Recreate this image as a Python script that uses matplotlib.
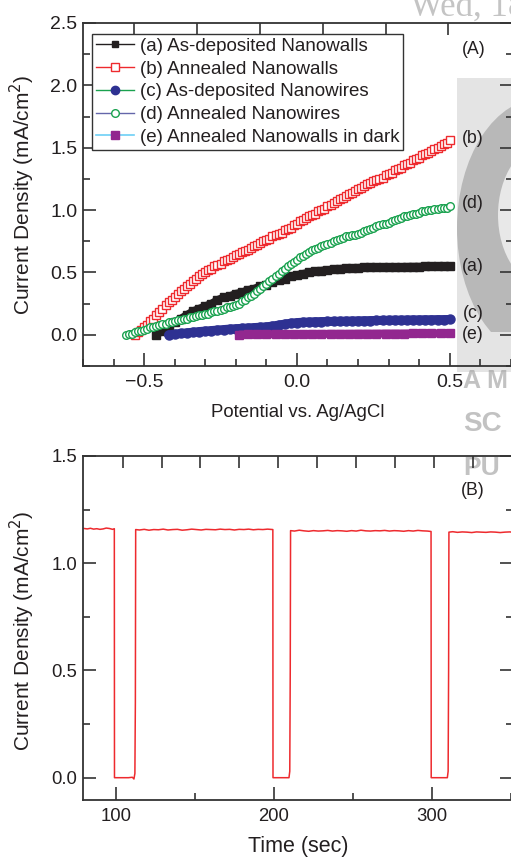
import numpy as np
import matplotlib.pyplot as plt
from matplotlib.lines import Line2D
from matplotlib.patches import Rectangle, Ellipse
from matplotlib.ticker import MultipleLocator

plt.rcParams['font.family'] = ['Liberation Sans', 'DejaVu Sans']

# ---- (A) photocurrent vs potential ----
# (a) as-deposited nanowalls, -0.46 .. 0.50 V every 0.02 V
j_a = [0.00, 0.03, 0.07, 0.10, 0.13, 0.16, 0.19, 0.21, 0.23, 0.25,
       0.28, 0.30, 0.31, 0.33, 0.34, 0.36, 0.37, 0.39, 0.40, 0.42,
       0.44, 0.45, 0.47, 0.48, 0.49, 0.50, 0.51, 0.515, 0.52, 0.525,
       0.53, 0.533, 0.536, 0.538, 0.54, 0.541, 0.542, 0.543, 0.544, 0.545,
       0.545, 0.546, 0.547, 0.547, 0.548, 0.548, 0.549, 0.55, 0.55]
v_a = np.linspace(-0.46, 0.50, len(j_a))

# (b) annealed nanowalls, -0.53 .. 0.50 V every 0.01 V
j_b = [0.00, 0.02, 0.04, 0.06, 0.08, 0.11, 0.13, 0.16, 0.18, 0.21,
       0.24, 0.26, 0.28, 0.30, 0.33, 0.35, 0.37, 0.39, 0.41, 0.43,
       0.45, 0.47, 0.49, 0.50, 0.52, 0.53, 0.55, 0.56, 0.57, 0.59,
       0.60, 0.61, 0.62, 0.64, 0.65, 0.66, 0.67, 0.68, 0.70, 0.71,
       0.72, 0.74, 0.75, 0.76, 0.77, 0.79, 0.80, 0.81, 0.82, 0.84,
       0.85, 0.86, 0.88, 0.89, 0.91, 0.92, 0.94, 0.95, 0.96, 0.97,
       0.99, 1.00, 1.01, 1.03, 1.04, 1.06, 1.07, 1.09, 1.10, 1.11,
       1.13, 1.14, 1.15, 1.17, 1.18, 1.19, 1.21, 1.22, 1.23, 1.24,
       1.25, 1.26, 1.28, 1.29, 1.30, 1.32, 1.33, 1.34, 1.36, 1.37,
       1.38, 1.40, 1.41, 1.42, 1.44, 1.45, 1.46, 1.47, 1.49, 1.50,
       1.51, 1.53, 1.54, 1.56]
v_b = np.linspace(-0.53, 0.50, len(j_b))

# (c) as-deposited nanowires, -0.42 .. 0.50 V every 0.02 V
j_c = [0.000, 0.005, 0.011, 0.016, 0.021, 0.026, 0.030, 0.034, 0.038, 0.042,
       0.046, 0.049, 0.052, 0.055, 0.058, 0.061, 0.064, 0.070, 0.078, 0.086,
       0.093, 0.098, 0.101, 0.103, 0.105, 0.106, 0.107, 0.108, 0.109, 0.110,
       0.111, 0.112, 0.113, 0.114, 0.115, 0.116, 0.117, 0.118, 0.118, 0.119,
       0.120, 0.120, 0.121, 0.121, 0.122, 0.122, 0.123]
v_c = np.linspace(-0.42, 0.50, len(j_c))

# (d) annealed nanowires, -0.56 .. 0.50 V every 0.01 V
j_d = [0.00, 0.01, 0.01, 0.02, 0.03, 0.03, 0.04, 0.05, 0.06, 0.06,
       0.07, 0.08, 0.09, 0.09, 0.10, 0.10, 0.11, 0.12, 0.12, 0.13,
       0.13, 0.14, 0.14, 0.15, 0.155, 0.16, 0.17, 0.17, 0.18, 0.19,
       0.19, 0.20, 0.21, 0.22, 0.22, 0.23, 0.24, 0.25, 0.27, 0.28,
       0.30, 0.31, 0.33, 0.35, 0.37, 0.39, 0.41, 0.43, 0.45, 0.47,
       0.49, 0.51, 0.53, 0.55, 0.57, 0.58, 0.60, 0.62, 0.63, 0.65,
       0.66, 0.68, 0.69, 0.70, 0.71, 0.72, 0.73, 0.74, 0.75, 0.76,
       0.77, 0.78, 0.79, 0.79, 0.80, 0.80, 0.81, 0.82, 0.83, 0.84,
       0.85, 0.86, 0.87, 0.88, 0.89, 0.89, 0.90, 0.91, 0.92, 0.93,
       0.94, 0.95, 0.95, 0.96, 0.97, 0.97, 0.98, 0.99, 0.99, 1.00,
       1.00, 1.01, 1.01, 1.02, 1.02, 1.02, 1.03]
v_d = np.linspace(-0.56, 0.50, len(j_d))

# (e) annealed nanowalls in dark, -0.19 .. 0.50 V every 0.03 V
j_e = [0.002, 0.003, 0.004, 0.004, 0.005, 0.005, 0.006, 0.006, 0.007, 0.007,
       0.008, 0.008, 0.008, 0.009, 0.009, 0.009, 0.010, 0.010, 0.010, 0.011,
       0.011, 0.011, 0.012, 0.012]
v_e = np.linspace(-0.19, 0.50, len(j_e))

labels_a = ['(a) As-deposited Nanowalls', '(b) Annealed Nanowalls',
            '(c) As-deposited Nanowires', '(d) Annealed Nanowires',
            '(e) Annealed Nanowalls in dark']
end_tags = ['(a)', '(b)', '(c)', '(d)', '(e)']
end_tag_y = [0.546, 1.576, 0.17, 1.049, 0.0]

# ---- (B) chopped-light transient ----
time_b = [80, 82, 84, 86, 88, 90, 92, 94, 96, 98, 99.1,
          99.2, 104, 108, 110.5, 111.5, 112.1, 112.4,
          112.6, 115, 118, 121, 124, 127, 130, 133, 136, 139, 142, 145, 148, 151,
          154, 157, 160, 163, 166, 169, 172, 175, 178, 181, 184, 187, 190, 193,
          196, 199.3,
          199.4, 204, 209.5, 210.0, 210.3,
          210.5, 213, 216, 219, 222, 225, 228, 231, 234, 237, 240, 243, 246, 249,
          252, 255, 258, 261, 264, 267, 270, 273, 276, 279, 282, 285, 288, 291,
          294, 297, 299.3,
          299.4, 304, 309.6, 310.1, 310.4,
          310.6, 313, 316, 319, 322, 325, 328, 331, 334, 337, 340, 343, 346, 349, 352]
j_time = [1.162, 1.160, 1.163, 1.159, 1.161, 1.158, 1.160, 1.164, 1.162, 1.158, 1.161,
          0.0, 0.0, 0.0, 0.002, -0.006, 0.02, 0.35,
          1.157, 1.155, 1.158, 1.154, 1.157, 1.156, 1.159, 1.155, 1.157, 1.158,
          1.154, 1.156, 1.159, 1.157, 1.155, 1.158, 1.157, 1.156, 1.159, 1.157,
          1.158, 1.155, 1.158, 1.157, 1.159, 1.156, 1.158, 1.157, 1.159, 1.157,
          0.0, 0.0, 0.0, 0.03, 0.5,
          1.152, 1.150, 1.154, 1.151, 1.149, 1.152, 1.150, 1.151, 1.153, 1.150,
          1.152, 1.151, 1.149, 1.152, 1.150, 1.154, 1.151, 1.150, 1.152, 1.151,
          1.153, 1.150, 1.152, 1.151, 1.149, 1.152, 1.150, 1.153, 1.151, 1.150,
          1.148,
          0.0, 0.0, 0.0, 0.03, 0.5,
          1.145, 1.147, 1.144, 1.146, 1.145, 1.143, 1.146, 1.145, 1.144, 1.146,
          1.145, 1.143, 1.145, 1.146, 1.144]

# odd top-axis tick positions seen in the figure
top_ticks_a = [-0.532, -0.327, -0.120, 0.085, 0.291, 0.495]
top_ticks_b = [104.4, 129.1, 153.5, 178.2, 202.8, 227.3, 252.0, 276.6, 301.3, 326.0]

BLACK = '#231f20'
RED = '#ee2a2e'
NAVY = '#2e3192'
GREEN = '#1aa24f'
PURPLE = '#92278f'
CYAN = '#6dcff6'
SLATE = '#6466aa'
AXC = '#333333'

W, H = 511, 858


def px_rect(l, t, r, b):
    return [l / W, 1 - b / H, (r - l) / W, (b - t) / H]


def style_axes(ax, top_ticks, tick_fs):
    for s in ax.spines.values():
        s.set_color(AXC)
        s.set_linewidth(1.3)
    ax.set_facecolor('none')
    ax.tick_params(which='both', direction='in', colors=AXC, width=1.2,
                   left=True, right=True, bottom=True, top=False,
                   labelsize=tick_fs, labelcolor=BLACK)
    ax.tick_params(which='major', length=9.5)
    ax.tick_params(which='minor', length=5)
    ax.tick_params(axis='y', pad=4)
    ax.tick_params(axis='x', pad=6)
    tw = ax.twiny()
    tw.set_xlim(ax.get_xlim())
    tw.set_xticks(top_ticks)
    tw.tick_params(direction='in', length=8.5, width=1.2, colors=AXC,
                   labeltop=False)
    for s in tw.spines.values():
        s.set_visible(False)
    return tw


fig = plt.figure(figsize=(W / 100, H / 100), dpi=100)

# scanned background marks on the right edge
fig.add_artist(Rectangle((457 / W, 1 - 372 / H), 60 / W, 295 / H,
                         transform=fig.transFigure, color='#e4e4e4', zorder=-6, lw=0))
fig.add_artist(Ellipse((5.42, (H - 228) / 100), 1.70, 2.60,
                       transform=fig.dpi_scale_trans, color='#b8b8b8', zorder=-5, lw=0))
fig.add_artist(Ellipse((5.48, (H - 215) / 100), 1.00, 1.45,
                       transform=fig.dpi_scale_trans, color='#e8e8e8', zorder=-4, lw=0))
fig.add_artist(Rectangle((457 / W, 1 - 372 / H), 60 / W, 40 / H,
                         transform=fig.transFigure, color='#e4e4e4', zorder=-4, lw=0))
fig.add_artist(Rectangle((440 / W, 1 - 78 / H), 80 / W, 60 / H,
                         transform=fig.transFigure, color='white', zorder=-4, lw=0))
fig.text(410 / W, 1 - 16 / H, 'Wed, 18', family='Liberation Serif', fontsize=25,
         color='#c4c4c4', va='baseline', ha='left', zorder=-3)
for txt, y, fs in [('A M', 381, 18), ('SC', 424, 20), ('PU', 468, 19)]:
    fig.text(463 / W, 1 - y / H, txt, fontsize=fs, fontweight='bold',
             color='#9a9a9a', alpha=0.6, va='center', ha='left', zorder=-3)

# ---- panel A ----
ax1 = fig.add_axes(px_rect(83, 23, 513, 366))
ax1.set_xlim(-0.70, 0.707)
ax1.set_ylim(-0.25, 2.5)

ax1.plot(v_a, j_a, color=BLACK, lw=5.5, solid_capstyle='butt',
         marker='s', ms=5.5, mfc=BLACK, mec=BLACK)
ax1.plot(v_b, j_b, color=RED, lw=1, marker='s', ms=6, mfc='white', mec=RED, mew=1.0)
ax1.plot(v_c, j_c, color=NAVY, lw=6.5, solid_capstyle='round',
         marker='o', ms=6.5, mfc=NAVY, mec=NAVY)
ax1.plot(v_d, j_d, color=GREEN, lw=1, marker='o', ms=5.5, mfc='white', mec=GREEN, mew=1.0)
ax1.plot(v_e, j_e, color=PURPLE, lw=5.8, solid_capstyle='butt',
         marker='s', ms=5.5, mfc=PURPLE, mec=PURPLE)

ax1.xaxis.set_major_locator(MultipleLocator(0.5))
ax1.xaxis.set_minor_locator(MultipleLocator(0.1))
ax1.yaxis.set_major_locator(MultipleLocator(0.5))
ax1.yaxis.set_minor_locator(MultipleLocator(0.25))
ax1.xaxis.set_major_formatter(plt.FuncFormatter(lambda v, p: f'{v:.1f}'.replace('-', '\u2212')))
ax1.yaxis.set_major_formatter(plt.FuncFormatter(lambda v, p: f'{v:.1f}'))
style_axes(ax1, top_ticks_a, 14)

ax1.set_xlabel('Potential vs. Ag/AgCl', fontsize=13.4, color=BLACK)
ax1.xaxis.set_label_coords(0.5, -0.137)
ax1.xaxis.label.set_va('center')
ax1.set_ylabel('Current Density (mA/cm$^2$)', fontsize=15, color=BLACK)
ax1.yaxis.set_label_coords(-0.141, 0.4985)
ax1.yaxis.label.set_va('center')

for tag, y in zip(end_tags, end_tag_y):
    ax1.text(0.576, y, tag, fontsize=12.7, color=BLACK, ha='center', va='center')
ax1.text(0.577, 2.287, '(A)', fontsize=12.7, color=BLACK, ha='center', va='center')

handles = [
    Line2D([], [], color=BLACK, lw=1, marker='s', ms=5, mfc=BLACK, mec=BLACK),
    Line2D([], [], color=RED, lw=1, marker='s', ms=5.5, mfc='white', mec=RED),
    Line2D([], [], color=GREEN, lw=1, marker='o', ms=6, mfc=NAVY, mec=NAVY),
    Line2D([], [], color=SLATE, lw=1, marker='o', ms=5.5, mfc='white', mec=GREEN),
    Line2D([], [], color=CYAN, lw=1.2, marker='s', ms=5.5, mfc=PURPLE, mec=PURPLE),
]
leg = ax1.legend(handles, labels_a, loc='upper left',
                 bbox_to_anchor=(92 / W, 1 - 34 / H), bbox_transform=fig.transFigure,
                 borderaxespad=0, fontsize=13.5, frameon=True, fancybox=False,
                 framealpha=1, edgecolor=AXC, handlelength=2.05, handletextpad=0.3,
                 labelspacing=0.3, borderpad=0.2)
leg.get_frame().set_linewidth(1.0)
for t in leg.get_texts():
    t.set_color(BLACK)

# ---- panel B ----
ax2 = fig.add_axes(px_rect(83, 456, 513, 800))
ax2.set_xlim(79.3, 351.1)
ax2.set_ylim(-0.104, 1.5)
ax2.plot(time_b, j_time, color=RED, lw=1.1)

ax2.xaxis.set_major_locator(MultipleLocator(100))
ax2.xaxis.set_minor_locator(MultipleLocator(50))
ax2.yaxis.set_major_locator(MultipleLocator(0.5))
ax2.yaxis.set_minor_locator(MultipleLocator(0.25))
ax2.yaxis.set_major_formatter(plt.FuncFormatter(lambda v, p: f'{v:.1f}'))
style_axes(ax2, top_ticks_b, 13.3)

ax2.set_xlabel('Time (sec)', fontsize=15.5, color=BLACK)
ax2.xaxis.set_label_coords(0.5, -0.1366)
ax2.xaxis.label.set_va('center')
ax2.set_ylabel('Current Density (mA/cm$^2$)', fontsize=15, color=BLACK)
ax2.yaxis.set_label_coords(-0.141, 0.491)
ax2.yaxis.label.set_va('center')
ax2.text(325.9, 1.341, '(B)', fontsize=12.7, color=BLACK, ha='center', va='center')

fig.savefig('out.png', dpi=100)
